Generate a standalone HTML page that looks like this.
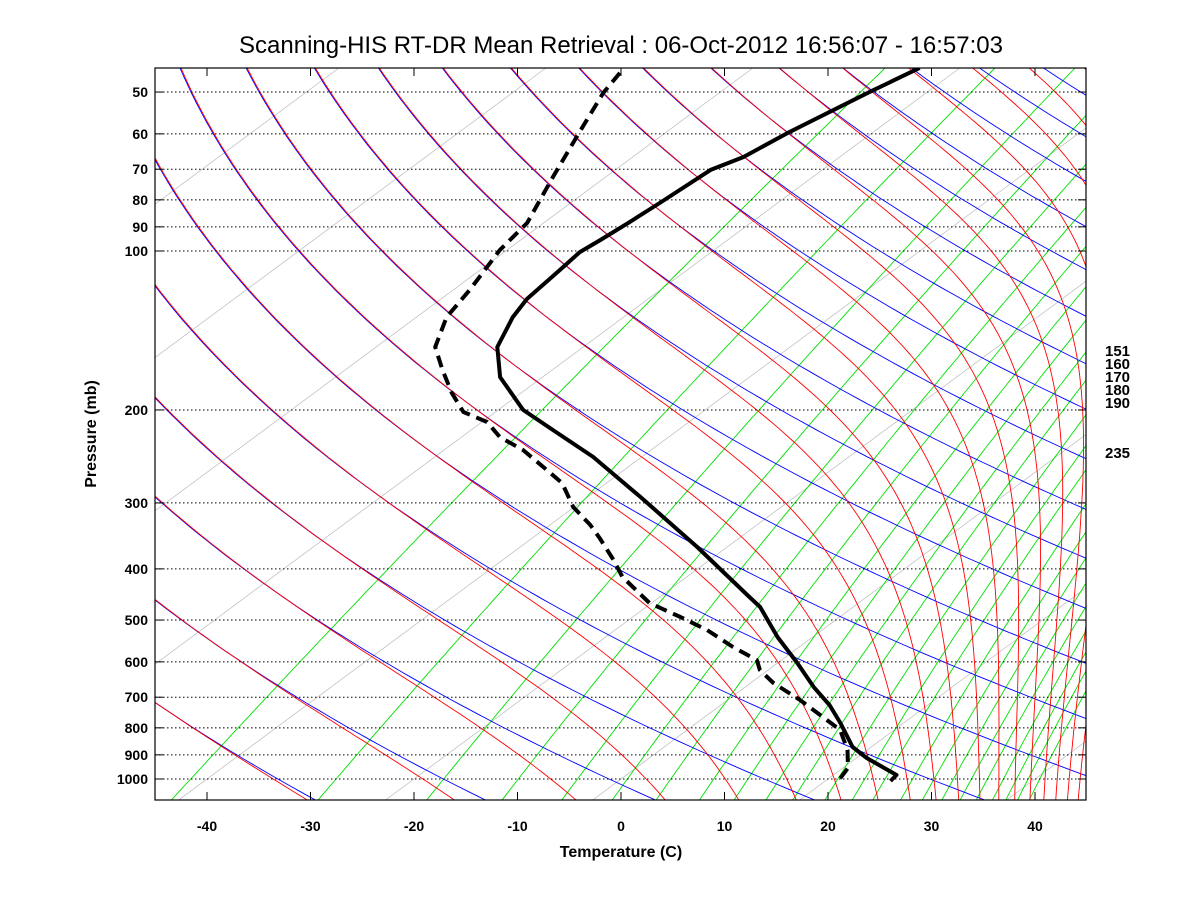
<!DOCTYPE html>
<html><head><meta charset="utf-8"><style>
html,body{margin:0;padding:0;background:#fff;}
svg{display:block;font-family:"Liberation Sans",Arial,sans-serif;}
</style></head><body>
<svg id="chart" width="1200" height="900" viewBox="0 0 1200 900" xmlns="http://www.w3.org/2000/svg">
<rect width="1200" height="900" fill="#fff"/>
<defs><clipPath id="plotclip"><rect x="155" y="68" width="931" height="732"/></clipPath></defs>
<text x="621" y="53" font-size="24" text-anchor="middle" fill="#000">Scanning-HIS RT-DR Mean Retrieval : 06-Oct-2012 16:56:07 - 16:57:03</text>
<g id="bg" clip-path="url(#plotclip)"></g>
<g id="grid"></g>
<g id="profiles" clip-path="url(#plotclip)"></g>
<rect x="155" y="68" width="931" height="732" fill="none" stroke="#000" stroke-width="1.2"/>
<g id="axes"></g>
<text x="621" y="857" font-size="16" font-weight="bold" text-anchor="middle">Temperature (C)</text>
<text transform="translate(96,434) rotate(-90)" font-size="16" font-weight="bold" text-anchor="middle">Pressure (mb)</text>
<g font-size="15" font-weight="bold">
<text x="1105" y="356">151</text><text x="1105" y="369">160</text><text x="1105" y="382">170</text><text x="1105" y="395">180</text><text x="1105" y="408">190</text><text x="1105" y="458">235</text>
</g>
</svg>
<script>
// ---- data ----
const tempP = [45,50,59.5,66.4,70.2,81.1,88.1,95.3,100.5,108.6,123.3,133.4,152,173.3,200,218.3,245.5,292.3,363.6,448.2,472.3,538.3,602.9,669.3,724.3,783.4,869.7,912.6,949,982.7,1008.8];
const tempT = [-63.9,-65.6,-68.1,-69.3,-70.8,-71.4,-71.8,-72.3,-72.7,-72.3,-71.7,-70.7,-68.3,-64.1,-57.6,-52.1,-44.7,-34.9,-22.9,-11.8,-9.0,-3.4,1.9,6.6,10.5,13.9,18.2,21.0,23.7,26.1,26.3];
const dewP = [46,50.2,59.5,72.4,88.5,99.6,118.6,133.4,152,168,185.7,201.8,210.8,225.1,238.1,256.5,275,305.4,330.3,349.6,384.7,414.4,464.2,493.3,522.3,562.3,595.1,621.6,657.8,708.7,773.1,807.9,881.3,953.2,1013.2];
const dewT = [-92.2,-91.2,-88.4,-85.1,-81.6,-80.7,-78.4,-77.1,-74.3,-70.6,-66.7,-63.1,-59.5,-56.3,-52.4,-48.2,-44.3,-40.1,-36.1,-33.5,-29.3,-26.2,-20.2,-15.4,-11.1,-6.4,-2.4,-0.8,2.2,7.0,12.2,14.8,18.1,20.5,21.3];
const thetaK = [240,256,272,287,303,319,334.5,350,366,381,396,412,428,443,459,475,490,506,522,537,553,569,584,600];
const mixW = [0.1,0.4,1,1.8,2.8,4,5.4,7.2,9,11,13,15.8,18.6,21,24.7,28,31.3,34.7,38,41.6,44.8,47.8,51];
const isoT = [-140,-120,-100,-80,-60,-40,-20,0,20,40];
const pLevels = [50,60,70,80,90,100,200,300,400,500,600,700,800,900,1000];
const tTicks = [-40,-30,-20,-10,0,10,20,30,40];

// ---- axis functions ----
function yOf(p){return 779+528*Math.log10(p/1000);}
function xOf(T,p){return 621+10.35*T+1.35*(779-yOf(p));}
const NS='http://www.w3.org/2000/svg';
function mk(tag,parent){const e=document.createElementNS(NS,tag);parent.appendChild(e);return e;}
const pSteps=[];for(let i=0;i<=160;i++){pSteps.push(45*Math.pow(1100/45,i/160));}
function es(T){return 6.112*Math.exp(17.67*T/(T+243.5));}

const bg=document.getElementById('bg');
// isotherms
isoT.forEach(T=>{
  const l=mk('line',bg);
  
  
  l.setAttribute('x1',xOf(T,1100));l.setAttribute('y1',yOf(1100));
  l.setAttribute('x2',xOf(T,45));l.setAttribute('y2',yOf(45));
  l.setAttribute('stroke','#bbbbbb');l.setAttribute('stroke-width','0.7');
});
// mixing ratio lines
mixW.forEach(w=>{
  const pts=pSteps.map(p=>{const e=w*p/(622+w);const L=Math.log(e/6.112);const Td=243.5*L/(17.67-L);return xOf(Td,p).toFixed(1)+','+yOf(p).toFixed(1);});
  const pl=mk('polyline',bg);
  
  
  pl.setAttribute('points',pts.join(' '));pl.setAttribute('fill','none');pl.setAttribute('stroke','#00e000');pl.setAttribute('stroke-width','0.9');
});
// dry adiabats
thetaK.forEach(th=>{
  const pts=pSteps.map(p=>{const T=th*Math.pow(p/1000,0.286)-273.15;return xOf(T,p).toFixed(1)+','+yOf(p).toFixed(1);});
  const pl=mk('polyline',bg);
  
  
  pl.setAttribute('points',pts.join(' '));pl.setAttribute('fill','none');pl.setAttribute('stroke','#0000ff');pl.setAttribute('stroke-width','0.9');
});
// moist adiabats
function thetaE(T,p){const Tk=T+273.15;let e=es(T);if(e>p*0.6)e=p*0.6;const ws=0.622*e/(p-e);return Tk*Math.pow(1000/p,0.286)*Math.exp(2.5e6*ws/(1005*Tk));}
thetaK.forEach(E=>{
  const pts=[];
  pSteps.forEach(p=>{
    let lo=-170,hi=70;
    if(thetaE(hi,p)<E){return;}
    for(let k=0;k<40;k++){const m=(lo+hi)/2;if(thetaE(m,p)<E)lo=m;else hi=m;}
    pts.push((xOf((lo+hi)/2,p)+1).toFixed(1)+','+yOf(p).toFixed(1));
  });
  const pl=mk('polyline',bg);
  
  
  pl.setAttribute('points',pts.join(' '));pl.setAttribute('fill','none');pl.setAttribute('stroke','#ff0000');pl.setAttribute('stroke-width','0.9');
});
// gridlines + axes
const grid=document.getElementById('grid'),axes=document.getElementById('axes');
pLevels.forEach(p=>{
  const y=yOf(p);
  const l=mk('line',grid);
  
  
  l.setAttribute('x1',155);l.setAttribute('x2',1086);l.setAttribute('y1',y);l.setAttribute('y2',y);
  l.setAttribute('stroke','#000');l.setAttribute('stroke-width','1');l.setAttribute('stroke-dasharray','1.5,2.5');
  [[155,163],[1078,1086]].forEach(a=>{const t=mk('line',axes);
    
    
    t.setAttribute('x1',a[0]);t.setAttribute('x2',a[1]);t.setAttribute('y1',y);t.setAttribute('y2',y);t.setAttribute('stroke','#000');});
  const tx=mk('text',axes);
  
  
  tx.setAttribute('x',148);tx.setAttribute('y',y+5);tx.setAttribute('text-anchor','end');tx.setAttribute('font-size','14');tx.setAttribute('font-weight','bold');
  tx.textContent=String(p);
});
tTicks.forEach(T=>{
  const x=621+10.35*T;
  [[800,792],[68,76]].forEach(a=>{const t=mk('line',axes);
    
    
    t.setAttribute('x1',x);t.setAttribute('x2',x);t.setAttribute('y1',a[0]);t.setAttribute('y2',a[1]);t.setAttribute('stroke','#000');});
  const tx=mk('text',axes);
  
  
  tx.setAttribute('x',x);tx.setAttribute('y',831);tx.setAttribute('text-anchor','middle');tx.setAttribute('font-size','14');tx.setAttribute('font-weight','bold');
  tx.textContent=String(T);
});
// profiles
const prof=document.getElementById('profiles');
function drawProfile(P,T,name,dash){
  const pl=mk('polyline',prof);
  
  
  pl.setAttribute('points',P.map((p,i)=>xOf(T[i],p).toFixed(1)+','+yOf(p).toFixed(1)).join(' '));
  pl.setAttribute('fill','none');pl.setAttribute('stroke','#000');pl.setAttribute('stroke-width','4');pl.setAttribute('stroke-linejoin','round');
  if(dash)pl.setAttribute('stroke-dasharray','12,7');
}
drawProfile(tempP,tempT,'temperature-profile',false);
drawProfile(dewP,dewT,'dewpoint-profile',true);
</script>
</body></html>
